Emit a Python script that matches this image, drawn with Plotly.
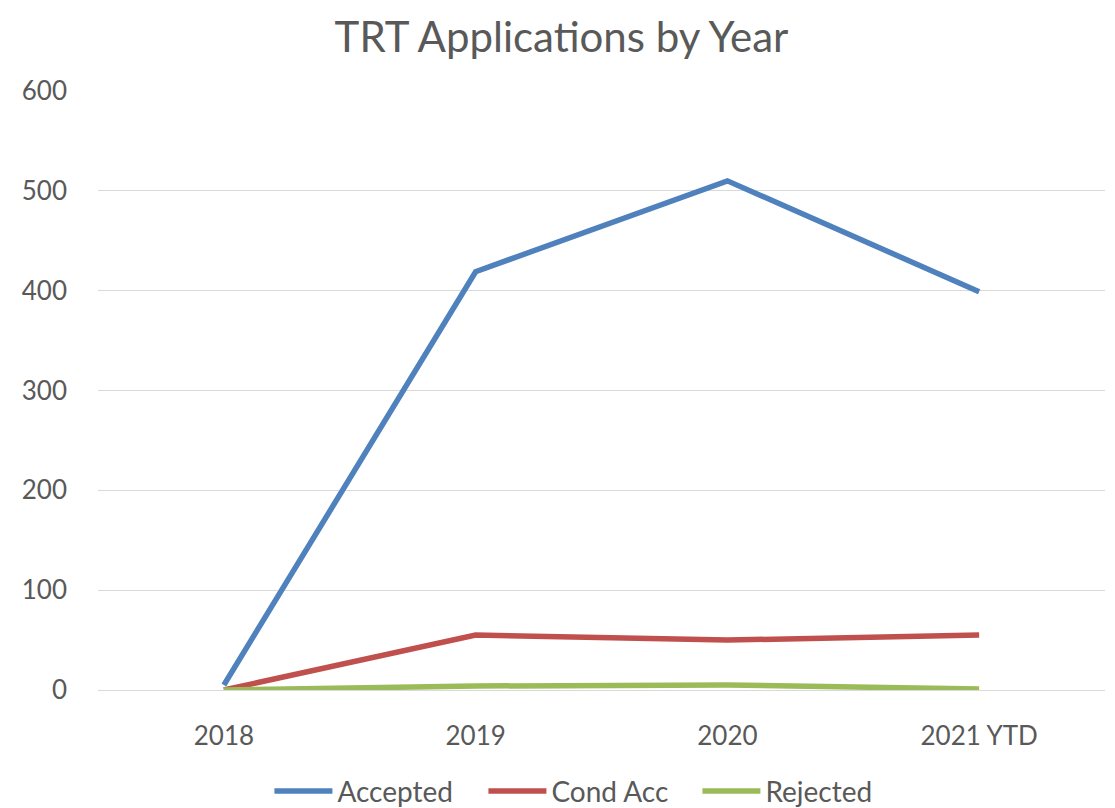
import plotly.graph_objects as go

categories = ["2018", "2019", "2020", "2021 YTD"]
accepted = [5, 419, 510, 399]
cond_acc = [0, 55, 50, 55]
rejected = [0, 4, 5, 1]

series = [
    ("Accepted", accepted, "#4f81bd"),
    ("Cond Acc", cond_acc, "#c0504d"),
    ("Rejected", rejected, "#9bbb59"),
]

fig = go.Figure()
for name, vals, color in series:
    fig.add_trace(go.Scatter(x=categories, y=vals, name=name, mode="lines",
                             line=dict(color=color, width=5.5)))

# page body has an 8px default margin; figure is sized to fill the rest
fig.update_layout(
    width=1107, height=800,
    paper_bgcolor="white", plot_bgcolor="white",
    font=dict(family="Lato, Open Sans, sans-serif", color="#595959", size=26),
    title=dict(text="TRT Applications by Year", x=0.5, xanchor="center",
               yref="container", y=0.963, yanchor="middle",
               font=dict(size=42, color="#595959")),
    margin=dict(l=90, r=10, t=83, b=118, autoexpand=False),
    showlegend=True,
    legend=dict(orientation="h", x=0.489, xanchor="center",
                yref="container", y=0.021, yanchor="middle",
                font=dict(size=28, color="#595959"), tracegroupgap=0,
                itemwidth=58, entrywidth=141, entrywidthmode="pixels"),
    xaxis=dict(type="category", range=[-0.5, 3.5], showgrid=False, showline=False,
               ticks="", automargin=False, ticklabelstandoff=28,
               tickfont=dict(size=26, color="#595959")),
    yaxis=dict(range=[0, 600], dtick=100, showgrid=True, gridcolor="#d9d9d9",
               gridwidth=1.3, zeroline=True, zerolinecolor="#d9d9d9", zerolinewidth=1.3,
               showline=False, ticks="", automargin=False, ticklabelstandoff=30,
               tickfont=dict(size=26, color="#595959")),
)

fig.write_html("out.html")
